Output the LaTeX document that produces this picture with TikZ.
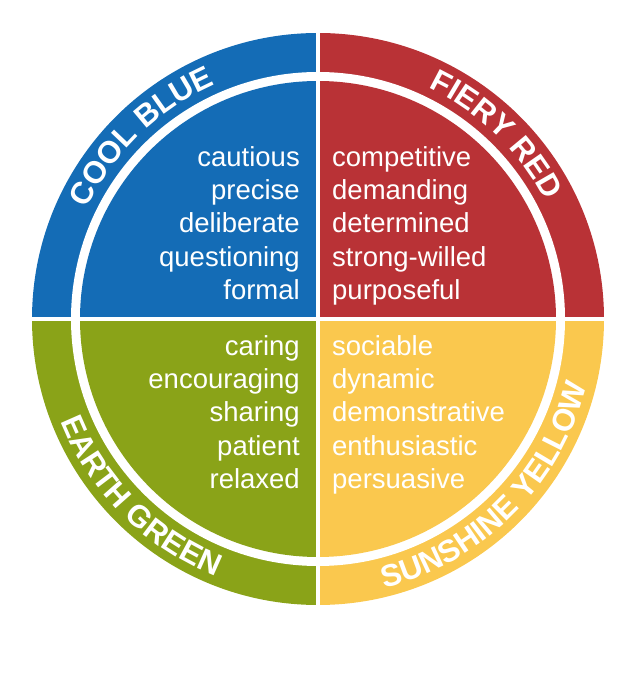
\documentclass[tikz,border=0pt]{standalone}
\usepackage{fontspec}
\setmainfont{Liberation Sans}
\usetikzlibrary{decorations.text}
\definecolor{cblue}{RGB}{20,108,182}
\definecolor{cred}{RGB}{185,50,54}
\definecolor{cgreen}{RGB}{138,163,24}
\definecolor{cyellow}{RGB}{250,200,78}
\tikzset{
  words/.style={text=white,font=\fontsize{27.5}{33.3}\selectfont,inner sep=0pt},
  ringlabel/.style={decorate,decoration={text along path,text align=center,
     text={|\bfseries\fontsize{31}{31}\selectfont\color{white}|#1}}}
}
\begin{document}
\begin{tikzpicture}[x=1pt,y=1pt]
\useasboundingbox (0,0) rectangle (636,676);
\coordinate (c) at (318,357);
\fill[cblue] (c) -- ++(90:286) arc[start angle=90,end angle=180,radius=286] -- cycle;
\fill[cred] (c) -- ++(0:286) arc[start angle=0,end angle=90,radius=286] -- cycle;
\fill[cgreen] (c) -- ++(180:286) arc[start angle=180,end angle=270,radius=286] -- cycle;
\fill[cyellow] (c) -- ++(270:286) arc[start angle=270,end angle=360,radius=286] -- cycle;
\fill[white] (c) circle[radius=247];
\fill[cblue] (c) -- ++(90:238) arc[start angle=90,end angle=180,radius=238] -- cycle;
\fill[cred] (c) -- ++(0:238) arc[start angle=0,end angle=90,radius=238] -- cycle;
\fill[cgreen] (c) -- ++(180:238) arc[start angle=180,end angle=270,radius=238] -- cycle;
\fill[cyellow] (c) -- ++(270:238) arc[start angle=270,end angle=360,radius=238] -- cycle;
\draw[white,line width=4] ([xshift=-290]c) -- ([xshift=290]c);
\draw[white,line width=4] ([yshift=-290]c) -- ([yshift=290]c);
\path[ringlabel={COOL BLUE}] (c) ++(168:256) arc[start angle=168,end angle=100,radius=256];
\path[ringlabel={FIERY RED}] (c) ++(80:256) arc[start angle=80,end angle=12,radius=256];
\path[ringlabel={EARTH GREEN}] (c) ++(188:277) arc[start angle=188,end angle=262,radius=277];
\path[ringlabel={SUNSHINE YELLOW}] (c) ++(278:277) arc[start angle=278,end angle=352,radius=277];
\node[words,align=right,anchor=north east] (tb) at (300,530) {cautious\\precise\\deliberate\\questioning\\formal};
\node[words,align=left,anchor=north west] (tr) at (332,530) {competitive\\demanding\\determined\\strong-willed\\purposeful};
\node[words,align=right,anchor=north east] (tg) at (300,341) {caring\\encouraging\\sharing\\patient\\relaxed};
\node[words,align=left,anchor=north west] (ty) at (332,341) {sociable\\dynamic\\demonstrative\\enthusiastic\\persuasive};
\end{tikzpicture}
\end{document}
